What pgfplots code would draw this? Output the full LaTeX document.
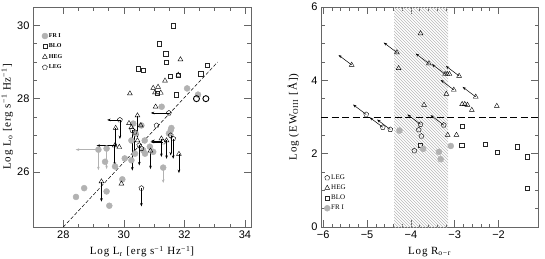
\documentclass[border=0pt]{standalone}
\usepackage{fontspec}
\setmainfont{Liberation Serif}
\newfontfamily\tickfont{Liberation Sans}
\newfontfamily\labelfont[LetterSpace=8]{Liberation Serif}
\usepackage{pgfplots}
\pgfplotsset{compat=1.18}
\usetikzlibrary{patterns,arrows.meta}
\definecolor{frgray}{gray}{0.70}
\pgfplotsset{
  myaxis/.style={scale only axis, height=220pt,
    axis line style={black!60, line width=0.8pt},
    tick style={black!60, line width=0.6pt},
    major tick length=7pt, minor tick length=3.5pt,
    tick align=inside,
    /pgf/number format/assume math mode=true,
    tick label style={font=\tickfont\fontsize{11}{12}\selectfont},
    label style={font=\labelfont\fontsize{11}{12}\selectfont},
    clip=false},
  legimg/.style={legend image code/.code={\draw[mark repeat=2,mark phase=2,##1] plot coordinates {(0pt,0pt)(4pt,0pt)(9pt,0pt)};}},
  mFR/.style={only marks, mark=*, mark size=3pt, frgray, mark options={draw=frgray, fill=frgray}, legimg},
  mBLO/.style={only marks, mark=square, mark size=2.1pt, black!85, mark options={line width=0.35pt}, legimg},
  mHEG/.style={only marks, mark=triangle, mark size=2.8pt, black, mark options={line width=0.4pt}, legimg},
  mLEG/.style={only marks, mark=pentagon, mark size=2.6pt, black, mark options={line width=0.4pt}, legimg},
  arr/.style={black, line width=0.5pt, -{Stealth[length=3.5pt,width=2.6pt]}},
  garr/.style={frgray, line width=0.6pt, -{Stealth[length=3.5pt,width=2.6pt]}},
}
\begin{document}
\begin{tikzpicture}[x=1pt,y=1pt]
\useasboundingbox (0,0) rectangle (545,258);
% ---------------- left panel
\begin{axis}[myaxis, at={(33pt,31pt)}, anchor=south west, width=218pt,
  xmin=27, xmax=34.2, ymin=24.5, ymax=30.5,
  xtick={28,30,32,34}, ytick={26,28,30}, minor x tick num=3, minor y tick num=3,
  xlabel={Log L\textsubscript{r} [erg s\textsuperscript{−1} Hz\textsuperscript{−1}]},
  ylabel={Log L\textsubscript{o} [erg s\textsuperscript{−1} Hz\textsuperscript{−1}]},
  xlabel style={at={(axis description cs:0.5,-0.112)}, anchor=center},
  ylabel style={at={(axis description cs:-0.118,0.5)}, anchor=center},
  legend style={at={(rel axis cs:0.04,0.886)}, anchor=north west, draw=none, fill=none,
    font=\fontsize{6}{7}\selectfont\bfseries, inner sep=0pt, row sep=3pt,
    nodes={inner sep=1pt}},
  legend cell align=left]
\addplot[mFR] table {
x y
28.42 25.32
28.69 25.56
29.43 25.47
29.52 25.08
29.95 25.80
29.16 26.61
29.43 26.64
29.38 26.28
29.71 26.15
30.03 26.37
30.37 26.50
30.25 26.86
30.31 27.32
30.39 27.05
30.58 27.27
30.69 26.86
30.64 26.59
30.86 26.69
30.97 26.55
30.70 26.50
30.25 26.32
31.30 26.12
31.49 27.05
31.55 27.14
31.25 27.78
31.57 27.20
32.09 28.28
32.45 28.11
};
\addlegendentry{FR I}
\addplot[mBLO] table {
x y
31.63 29.99
31.16 29.50
31.38 29.23
31.41 29.00
30.48 28.82
30.64 28.78
32.76 28.91
32.54 28.68
31.54 28.62
31.80 28.65
31.10 28.16
31.74 28.11
};
\addlegendentry{BLO}
\addplot[mHEG] table {
x y
31.87 29.07
31.80 28.65
31.36 28.49
30.97 28.29
31.13 28.32
31.03 28.17
31.22 28.16
30.20 28.14
31.05 27.78
30.17 27.33
30.25 27.22
30.45 27.54
30.56 27.27
29.73 27.20
29.70 26.72
29.85 26.68
30.45 26.86
30.88 26.58
31.82 26.49
31.24 26.91
31.41 26.86
29.26 25.74
29.92 25.68
};
\addlegendentry{HEG}
\addplot[mLEG] table {
x y
31.49 27.61
29.87 27.42
31.08 27.27
30.36 27.09
30.51 26.73
31.30 26.82
31.55 27.00
31.63 26.91
30.28 27.14
30.58 25.56
30.58 26.64
};
\addlegendentry{LEG}
\addplot[only marks, mark=o, mark size=3pt, black, mark options={line width=0.9pt}, forget plot] table {
x y
32.40 28.00
32.71 28.00
};
\addplot[arr, forget plot, quiver={u=\thisrow{u}, v=\thisrow{v}}] table {
x y u v
31.49 27.61 -0.60 0
29.87 27.42 -0.42 0
29.87 27.42 0 -0.52
30.36 27.09 0 -0.60
30.51 26.73 0 -0.55
31.30 26.82 -0.42 0
31.55 27.00 0 -0.55
31.63 26.91 0 -0.55
30.28 27.14 0 -1.10
30.58 25.56 0 -0.50
29.73 27.20 0 -0.52
29.70 26.72 0 -0.55
29.70 26.72 -0.60 0
30.45 27.54 0 -0.60
30.88 26.58 0 -0.50
31.82 26.49 0 -0.52
31.24 26.91 0 -0.50
31.41 26.86 0 -0.50
29.26 25.74 0 -0.55
31.24 26.85 -0.33 0
};
\addplot[garr, forget plot, quiver={u=\thisrow{u}, v=\thisrow{v}}] table {
x y u v
29.16 26.61 0 -0.56
29.43 26.64 0 -0.56
29.16 26.61 -0.75 0
31.30 26.12 0 -0.42
};
\addplot[black, line width=0.5pt, dash pattern=on 3.5pt off 2pt, forget plot] coordinates {(28,24.5) (33.1,29.0)};
\end{axis}
% ---------------- right panel
\begin{axis}[myaxis, at={(321pt,31pt)}, anchor=south west, width=217pt,
  xmin=-6.05, xmax=-1.1, ymin=0, ymax=6,
  xtick={-6,-5,-4,-3,-2}, xticklabels={−6,−5,−4,−3,−2},
  ytick={0,2,4,6}, minor x tick num=4, minor y tick num=3,
  xlabel={Log R\textsubscript{o−r}},
  ylabel={Log (EW\textsubscript{OIII} [Å])},
  xlabel style={at={(axis description cs:0.5,-0.112)}, anchor=center},
  ylabel style={at={(axis description cs:-0.128,0.5)}, anchor=center},
  legend style={at={(rel axis cs:0.014,0.066)}, anchor=south west, draw=none, fill=none,
    font=\fontsize{7}{8}\selectfont, inner sep=0pt, row sep=2pt,
    nodes={inner sep=1pt}},
  legend cell align=left]
\addplot[draw=none, pattern=north west lines, pattern color=black!28, forget plot] coordinates {(-4.38,0) (-3.15,0) (-3.15,6) (-4.38,6)} -- cycle;
\addplot[black, line width=0.6pt, dash pattern=on 7pt off 3.5pt, forget plot] coordinates {(-6.05,3) (-1.1,3)};
\addplot[mLEG] table {
x y
-5.02 3.07
-4.64 2.72
-4.47 2.66
-3.78 2.80
-3.25 2.78
-3.82 2.65
-3.76 2.48
-3.92 2.08
};
\addlegendentry{LEG}
\addplot[mHEG] table {
x y
-5.35 4.42
-4.32 4.76
-3.59 4.46
-3.22 4.17
-3.17 4.17
-3.12 4.17
-2.90 4.12
-3.02 3.74
-2.52 3.55
-3.78 5.28
-4.28 4.33
-3.19 3.63
-3.70 3.33
-2.83 3.35
-2.77 3.35
-2.71 3.33
-2.61 3.19
-2.04 3.30
-3.16 2.51
-2.96 2.51
};
\addlegendentry{HEG}
\addplot[mBLO] table {
x y
-2.83 2.74
-3.78 2.24
-2.84 2.24
-2.31 2.26
-2.04 2.03
-1.58 2.19
-1.35 1.92
-1.35 1.05
};
\addlegendentry{BLO}
\addplot[mFR] table {
x y
-4.26 2.63
-3.72 2.13
-3.36 2.05
-3.32 1.85
-3.09 2.21
};
\addlegendentry{FR I}
\addplot[arr, forget plot, quiver={u=-0.3, v=0.27}] table {
x y
-5.35 4.42
-4.32 4.76
-3.59 4.46
-3.22 4.17
-2.90 4.12
-3.02 3.74
-2.52 3.55
-5.02 3.07
-4.64 2.72
-4.47 2.66
-3.78 2.80
-3.25 2.78
};
\end{axis}
\end{tikzpicture}
\end{document}
